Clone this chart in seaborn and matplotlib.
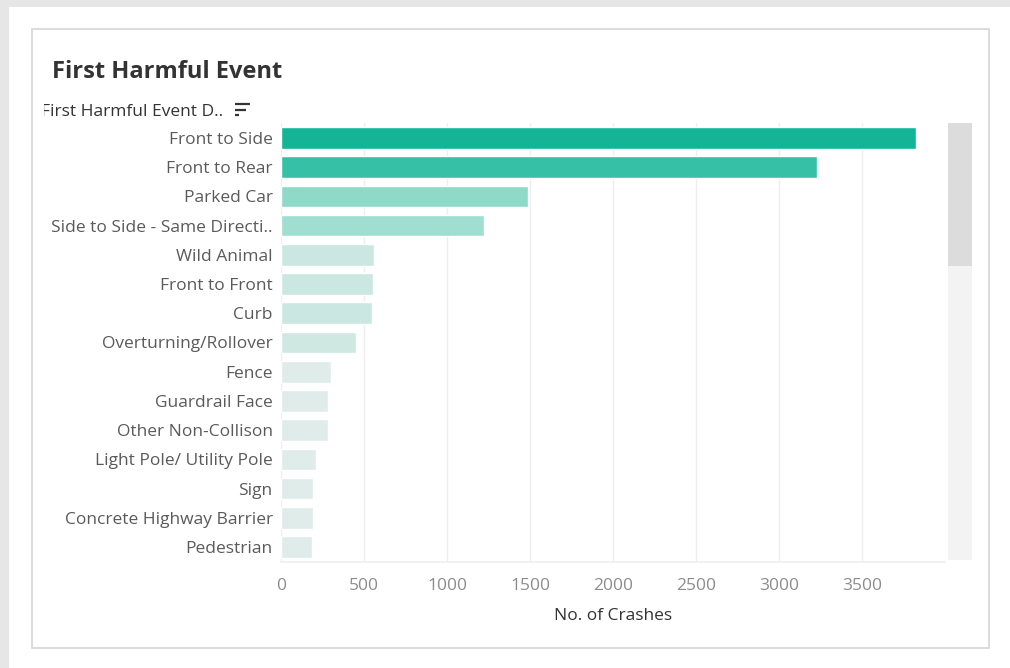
import matplotlib
matplotlib.use("Agg")
import matplotlib.pyplot as plt
from matplotlib.patches import Rectangle
from matplotlib.lines import Line2D
from matplotlib.transforms import Bbox
import seaborn as sns
import pandas as pd

categories = ["Front to Side", "Front to Rear", "Parked Car", "Side to Side - Same Directi..",
              "Wild Animal", "Front to Front", "Curb", "Overturning/Rollover", "Fence",
              "Guardrail Face", "Other Non-Collison", "Light Pole/ Utility Pole", "Sign",
              "Concrete Highway Barrier", "Pedestrian"]
crashes = [3823, 3229, 1486, 1221, 562, 556, 546, 450, 299, 283, 283, 209, 195, 195, 187]
bar_colors = ["#14b597", "#36c1a6", "#8fd9c8", "#9fded1", "#cbe7e1", "#cbe7e1", "#cbe7e1",
              "#cfe8e2", "#dfecea", "#dfecea", "#dfecea", "#dfecea", "#dfecea", "#dfecea", "#dfecea"]
x_ticks = [0, 500, 1000, 1500, 2000, 2500, 3000, 3500]

W, H = 1010, 668
sns.set_theme(style="white")
plt.rcParams["font.family"] = ["Open Sans", "DejaVu Sans"]

fig = plt.figure(figsize=(W / 100, H / 100), dpi=100)
fig.patch.set_facecolor("#e6e6e6")


def fx(x):
    return x / W


def fy(y):
    return 1 - y / H


# white page and card
fig.patches.append(Rectangle((fx(9), 0), 1 - fx(9), fy(7), transform=fig.transFigure,
                             facecolor="white", edgecolor="none", zorder=0))
fig.patches.append(Rectangle((fx(31.5), fy(648)), fx(989) - fx(31.5), fy(28.5) - fy(648),
                             transform=fig.transFigure, facecolor="white",
                             edgecolor="#d6d6d6", linewidth=1.2, zorder=1))

# scrollbar
fig.patches.append(Rectangle((fx(948), fy(560)), fx(972) - fx(948), fy(123) - fy(560),
                             transform=fig.transFigure, facecolor="#f3f3f3",
                             edgecolor="none", zorder=2))
fig.patches.append(Rectangle((fx(948), fy(266)), fx(972) - fx(948), fy(123) - fy(266),
                             transform=fig.transFigure, facecolor="#dcdcdc",
                             edgecolor="none", zorder=3))

ax = fig.add_axes([fx(281), fy(561.6), fx(945) - fx(281), fy(123.4) - fy(561.6)])
ax.set_facecolor("none")
ax.set_zorder(10)

df = pd.DataFrame({"event": categories, "crashes": crashes})
sns.barplot(data=df, y="event", x="crashes", hue="event", palette=bar_colors,
            orient="h", width=0.74, legend=False, ax=ax, saturation=1)

ax.set_xlim(0, 4000)
ax.set_xticks(x_ticks)
ax.set_xticklabels([str(t) for t in x_ticks])
ax.xaxis.grid(True, color="#eeeeee", linewidth=1)
ax.set_axisbelow(True)
for s in ["top", "right", "left"]:
    ax.spines[s].set_visible(False)
ax.spines["bottom"].set_color("#f0f0f0")
ax.tick_params(axis="x", length=4, width=0.8, color="#e8e8e8",
               pad=8, labelsize=12.5, labelcolor="#8c8c8c")
ax.tick_params(axis="y", length=0, labelsize=12.5, labelcolor="#5a5a5a", pad=6)
ax.set_ylabel("")
ax.set_xlabel("No. of Crashes", fontsize=12.5, color="#333333", labelpad=10)

# title
fig.text(fx(52), fy(78), "First Harmful Event", fontsize=17, fontweight="bold",
         color="#333333", ha="left", va="baseline")

# clipped field header
hdr = fig.text(fx(41), fy(116), "First Harmful Event D..", fontsize=12.5, color="#333333",
               ha="left", va="baseline")
hdr.set_clip_box(Bbox.from_extents(44, 0, 300, H))
hdr.set_clip_on(True)

# sort icon
for (x0, x1, y) in [(235, 250, 104), (235, 246, 109.5), (235, 239, 115)]:
    fig.lines.append(Line2D([fx(x0), fx(x1)], [fy(y), fy(y)], transform=fig.transFigure,
                            color="#333333", linewidth=1.6, solid_capstyle="butt"))

fig.savefig("out.png", dpi=100, facecolor=fig.get_facecolor())
